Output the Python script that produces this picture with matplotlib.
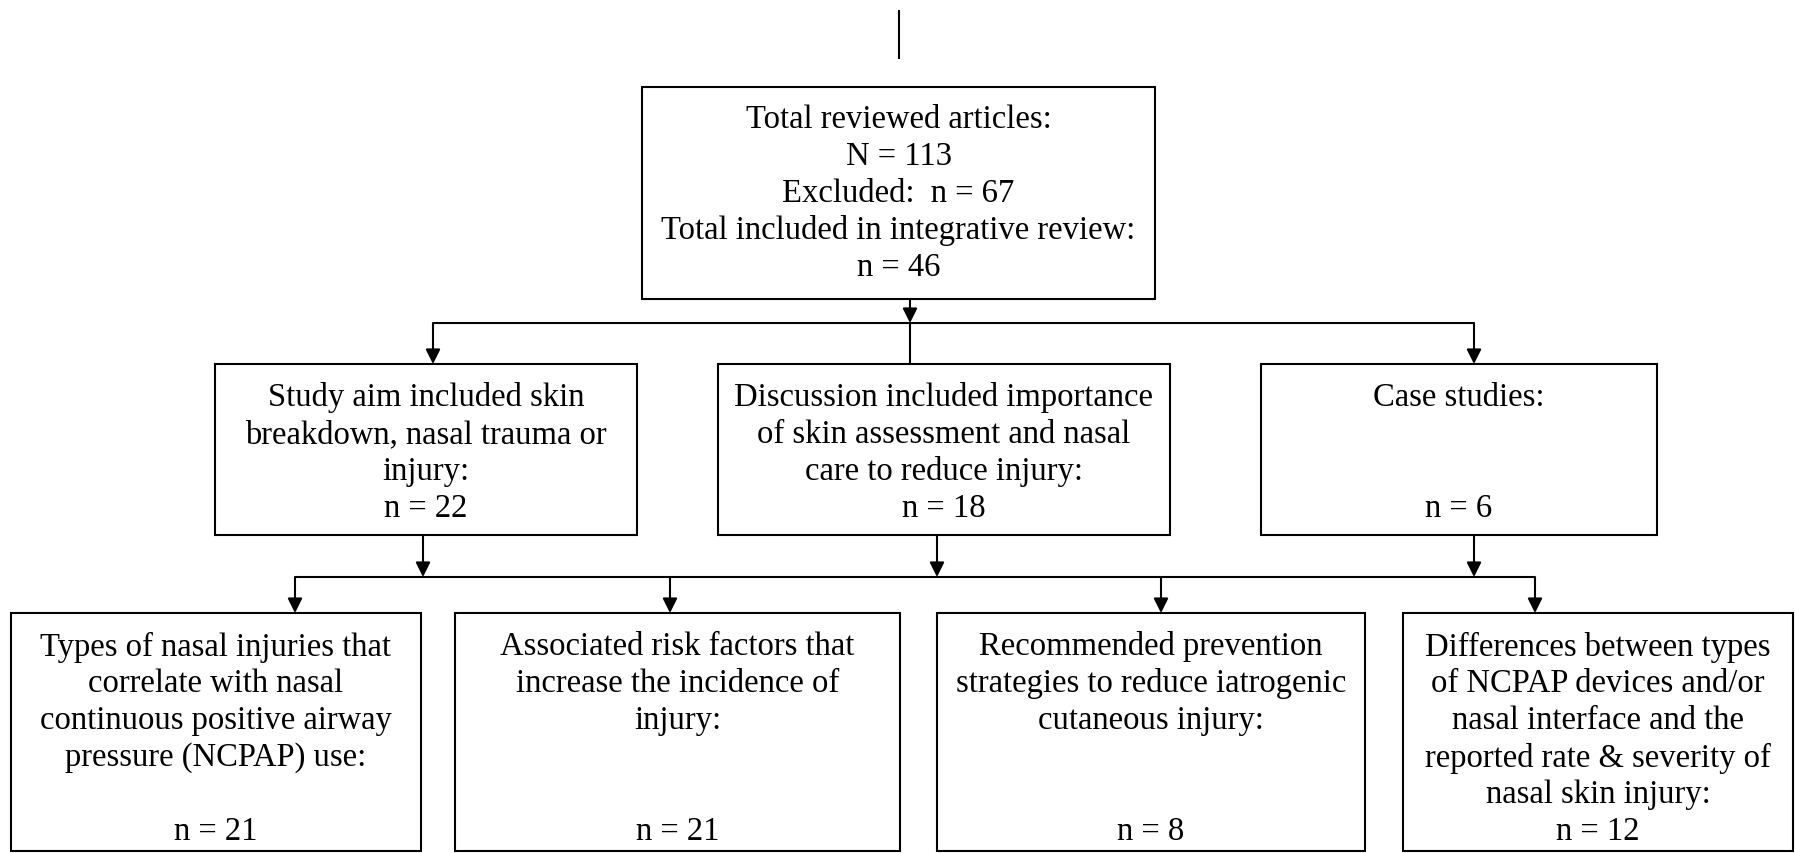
import matplotlib
matplotlib.use("Agg")
import matplotlib.pyplot as plt
from matplotlib.patches import Rectangle, FancyArrowPatch

# box texts, one entry per line ("" = empty line)
top_lines = ["Total reviewed articles:", "N = 113", "Excluded:  n = 67",
             "Total included in integrative review:", "n = 46"]
mid_lines = [
    ["Study aim included skin", "breakdown, nasal trauma or", "injury:", "n = 22"],
    ["Discussion included importance", "of skin assessment and nasal",
     "care to reduce injury:", "n = 18"],
    ["Case studies:", "", "", "n = 6"],
]
low_lines = [
    ["Types of nasal injuries that", "correlate with nasal",
     "continuous positive airway", "pressure (NCPAP) use:", "", "n = 21"],
    ["Associated risk factors that", "increase the incidence of", "injury:",
     "", "", "n = 21"],
    ["Recommended prevention", "strategies to reduce iatrogenic",
     "cutaneous injury:", "", "", "n = 8"],
    ["Differences between types", "of NCPAP devices and/or",
     "nasal interface and the", "reported rate & severity of",
     "nasal skin injury:", "n = 12"],
]

# layout in pixels (x0, x1), y top-down
top_box = (642, 1155, 88, 300)
mid_x = [(215, 637), (718, 1170), (1261, 1657)]
mid_y = (365, 536)
low_x = [(11, 421), (455, 900), (937, 1365), (1403, 1793)]
low_y = (614, 852)
mid_arrow_x = [423, 937, 1474]
low_arrow_x = [295, 670, 1161, 1535]

W, H = 1795, 854
fig = plt.figure(figsize=(W / 100, H / 100), dpi=100)
ax = fig.add_axes([0, 0, 1, 1])
ax.set_xlim(0, W)
ax.set_ylim(H, 0)
ax.axis("off")

FONT = dict(family="Liberation Serif", size=23.5, color="black",
            ha="center", va="center")
LW = 1.5
STEP = 37


def box(x0, x1, y0, y1):
    ax.add_patch(Rectangle((x0, y0), x1 - x0, y1 - y0, fill=False,
                           ec="black", lw=LW))


def write(lines, xc, ystart):
    for i, s in enumerate(lines):
        if s:
            ax.text(xc, ystart + i * STEP, s, **FONT)


def line(x0, y0, x1, y1):
    ax.plot([x0, x1], [y0, y1], color="black", lw=LW, solid_capstyle="butt")


def arrow(x, y0, y1):
    ax.add_patch(FancyArrowPatch((x, y0), (x, y1), arrowstyle="-|>",
                                 mutation_scale=22, color="black", lw=LW,
                                 shrinkA=0, shrinkB=0))


# stray line at the top
line(899, 11, 899, 60)

# top box
box(*top_box)
write(top_lines, (top_box[0] + top_box[1]) / 2, 120)

# connector to middle row
arrow(910, 300, 324)
line(433, 324, mid_arrow_x[2], 324)
arrow(433, 324, mid_y[0])
arrow(mid_arrow_x[2], 324, mid_y[0])
line(910, 324, 910, mid_y[0])

for (x0, x1), lines in zip(mid_x, mid_lines):
    box(x0, x1, *mid_y)
    write(lines, (x0 + x1) / 2, 398)

# connector to bottom row
for x in mid_arrow_x:
    arrow(x, mid_y[1], 578)
line(low_arrow_x[0], 578, low_arrow_x[-1], 578)
for x in low_arrow_x:
    arrow(x, 578, low_y[0])

for (x0, x1), lines in zip(low_x, low_lines):
    box(x0, x1, *low_y)
    write(lines, (x0 + x1) / 2, 647)

fig.savefig("out.png", dpi=100)
